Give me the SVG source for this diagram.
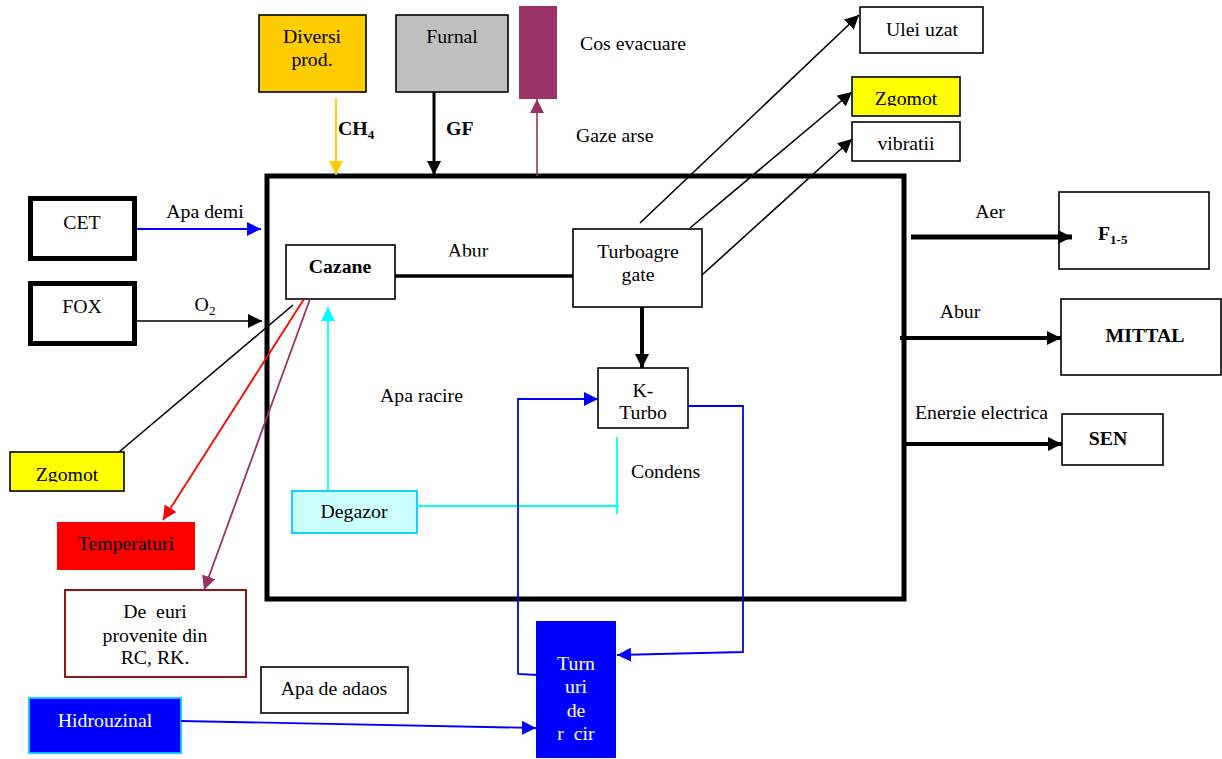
<svg xmlns="http://www.w3.org/2000/svg" width="1222" height="759" viewBox="0 0 1222 759">
<style>
text{font-family:"Liberation Serif","Times New Roman",serif;font-size:19.8px;fill:#000}
.c{text-anchor:middle}
.b{font-weight:bold}
.w{fill:#fff}
.box{fill:#fff;stroke:#000;stroke-width:1.6}
.ln{fill:none;stroke:#000;stroke-width:1.6}
.sub{font-size:13px}
</style>
<defs>
<marker id="ak" markerUnits="userSpaceOnUse" viewBox="0 0 14 14" refX="14" refY="7" markerWidth="14" markerHeight="14" orient="auto"><path d="M0,0L14,7L0,14z" fill="#000"/></marker>
<marker id="ab" markerUnits="userSpaceOnUse" viewBox="0 0 14 14" refX="14" refY="7" markerWidth="14" markerHeight="14" orient="auto"><path d="M0,0L14,7L0,14z" fill="#0000FF"/></marker>
<marker id="ay" markerUnits="userSpaceOnUse" viewBox="0 0 14 14" refX="14" refY="7" markerWidth="14" markerHeight="14" orient="auto"><path d="M0,0L14,7L0,14z" fill="#FFCC00"/></marker>
<marker id="ap" markerUnits="userSpaceOnUse" viewBox="0 0 14 14" refX="14" refY="7" markerWidth="14" markerHeight="14" orient="auto"><path d="M0,0L14,7L0,14z" fill="#993366"/></marker>
<marker id="ar" markerUnits="userSpaceOnUse" viewBox="0 0 14 14" refX="14" refY="7" markerWidth="14" markerHeight="14" orient="auto"><path d="M0,0L14,7L0,14z" fill="#FF0000"/></marker>
<marker id="ac" markerUnits="userSpaceOnUse" viewBox="0 0 14 14" refX="14" refY="7" markerWidth="14" markerHeight="14" orient="auto"><path d="M0,0L14,7L0,14z" fill="#00FFFF"/></marker>
<clipPath id="clAbur"><rect x="420" y="230" width="100" height="26.5"/></clipPath>
<clipPath id="clZg1"><rect x="10" y="452" width="114" height="30"/></clipPath>
<clipPath id="clZg2"><rect x="852" y="77" width="108" height="29"/></clipPath>
<clipPath id="clEn"><rect x="900" y="395" width="170" height="24.5"/></clipPath>
</defs>

<g id="main-box"><rect x="267" y="176" width="637" height="423" fill="none" stroke="#000" stroke-width="5"/></g>

<g id="diversi"><rect x="259" y="15" width="107" height="77" fill="#FFCC00" stroke="#000" stroke-width="1.6"/>
<text x="312" y="43" class="c">Diversi</text><text x="312" y="66" class="c">prod.</text></g>

<g id="furnal"><rect x="396" y="15" width="112" height="77" fill="#C0C0C0" stroke="#000" stroke-width="1.6"/>
<text x="452" y="43" class="c">Furnal</text></g>

<g id="cos"><rect x="519" y="6" width="38" height="93" fill="#993366"/></g>

<g id="ulei"><rect x="860" y="7" width="123" height="46" class="box"/><text x="922" y="36" class="c">Ulei uzat</text></g>

<g id="zgomot-top"><rect x="852" y="77" width="108" height="39" fill="#FFFF00" stroke="#000" stroke-width="1.6"/><text x="906" y="105" class="c" clip-path="url(#clZg2)">Zgomot</text></g>

<g id="vibratii"><rect x="852" y="122" width="108" height="39" class="box"/><text x="906" y="150" class="c">vibratii</text></g>

<g id="cet"><rect x="30.5" y="198.5" width="104" height="60" fill="#fff" stroke="#000" stroke-width="5"/><text x="82" y="229" class="c">CET</text></g>

<g id="fox"><rect x="30.5" y="283.5" width="104" height="60" fill="#fff" stroke="#000" stroke-width="5"/><text x="82" y="313" class="c">FOX</text></g>

<g id="cazane"><rect x="286" y="245" width="109" height="54" class="box"/><text x="340" y="273" class="c b">Cazane</text></g>

<g id="turbo"><rect x="573" y="229" width="129" height="78" class="box"/><text x="638" y="258" class="c">Turboagre</text><text x="638" y="281" class="c">gate</text></g>

<g id="kturbo"><rect x="598" y="368" width="90" height="60" class="box"/><text x="643" y="397" class="c">K-</text><text x="643" y="419" class="c">Turbo</text></g>

<g id="degazor"><rect x="292" y="491" width="125" height="42" fill="#CCFFFF" stroke="#00CCFF" stroke-width="1.8"/><text x="354" y="518" class="c">Degazor</text></g>

<g id="zgomot-left"><rect x="10" y="452" width="114" height="39" fill="#FFFF00" stroke="#000" stroke-width="1.6"/><text x="67" y="481" class="c" clip-path="url(#clZg1)">Zgomot</text></g>

<g id="temperaturi"><rect x="57" y="522" width="138" height="48" fill="#FF0000"/><text x="126" y="550" class="c">Temperaturi</text></g>

<g id="deseuri"><rect x="65" y="590" width="181" height="87" fill="#fff" stroke="#800000" stroke-width="1.8"/>
<text x="155" y="618" class="c" xml:space="preserve">De  euri</text><text x="155" y="642" class="c">provenite din</text><text x="155" y="664" class="c">RC, RK.</text></g>

<g id="apa-adaos"><rect x="261" y="667" width="147" height="46" class="box"/><text x="334" y="695" class="c">Apa de adaos</text></g>

<g id="hidrouzinal"><rect x="29" y="698" width="152" height="55" fill="#0000FF" stroke="#00CCFF" stroke-width="1.8"/><text x="105" y="727" class="c w">Hidrouzinal</text></g>

<g id="turnuri"><rect x="536" y="621" width="80" height="137" fill="#0000FF"/>
<text x="576" y="670" class="c w">Turn</text><text x="576" y="693" class="c w">uri</text><text x="576" y="717" class="c w">de</text><text x="576" y="740" class="c w" xml:space="preserve">r  cir</text></g>

<g id="f15"><rect x="1059" y="192" width="150" height="77" class="box"/><text x="1098" y="240" class="b">F<tspan class="sub" dy="4">1-5</tspan></text></g>

<g id="mittal"><rect x="1061" y="299" width="160" height="76" class="box"/><text x="1145" y="342" class="c b">MITTAL</text></g>

<g id="sen"><rect x="1062" y="414" width="101" height="51" class="box"/><text x="1108" y="445" class="c b">SEN</text></g>

<g id="connectors">
<line x1="336" y1="98" x2="336" y2="175" stroke="#FFCC00" stroke-width="1.8" marker-end="url(#ay)"/>
<line x1="434" y1="92" x2="434" y2="175" stroke="#000" stroke-width="3" marker-end="url(#ak)"/>
<line x1="537" y1="176" x2="537" y2="99" stroke="#993366" stroke-width="1.6" marker-end="url(#ap)"/>
<line x1="137" y1="229" x2="261" y2="229" stroke="#0000FF" stroke-width="2" marker-end="url(#ab)"/>
<line x1="137" y1="321" x2="262" y2="321" class="ln" marker-end="url(#ak)"/>
<line x1="395" y1="276" x2="573" y2="276" stroke="#000" stroke-width="3.5"/>
<line x1="642" y1="307" x2="642" y2="368" stroke="#000" stroke-width="4" marker-end="url(#ak)"/>
<line x1="640" y1="223" x2="859" y2="15" class="ln" marker-end="url(#ak)"/>
<line x1="690" y1="228" x2="852" y2="92" class="ln" marker-end="url(#ak)"/>
<line x1="702" y1="275" x2="852" y2="139" class="ln" marker-end="url(#ak)"/>
<line x1="911" y1="237" x2="1072" y2="237" stroke="#000" stroke-width="5" marker-end="url(#ak)"/>
<line x1="900" y1="338" x2="1061" y2="338" stroke="#000" stroke-width="4" marker-end="url(#ak)"/>
<line x1="904" y1="444" x2="1062" y2="444" stroke="#000" stroke-width="4" marker-end="url(#ak)"/>
<line x1="293" y1="305" x2="119" y2="452" class="ln"/>
<line x1="304" y1="299" x2="163" y2="520" stroke="#FF0000" stroke-width="1.8" marker-end="url(#ar)"/>
<line x1="310" y1="299" x2="204" y2="590" stroke="#993366" stroke-width="1.8" marker-end="url(#ap)"/>
<line x1="328" y1="490" x2="328" y2="307" stroke="#00FFFF" stroke-width="1.8" marker-end="url(#ac)"/>
<polyline points="417,506 619,506" fill="none" stroke="#00FFFF" stroke-width="1.8"/>
<line x1="617" y1="437" x2="617" y2="514" stroke="#00FFFF" stroke-width="1.8"/>
<polyline points="537,675 518,674 518,399 598,399" fill="none" stroke="#0000FF" stroke-width="1.8" marker-end="url(#ab)"/>
<polyline points="688,406 743,406 743,652 617,655" fill="none" stroke="#0000FF" stroke-width="1.8" marker-end="url(#ab)"/>
<line x1="181" y1="721" x2="536" y2="728" stroke="#0000FF" stroke-width="1.8" marker-end="url(#ab)"/>
</g>

<g id="labels">
<text x="338" y="135" class="b">CH<tspan class="sub" dy="4">4</tspan></text>
<text x="446" y="135" class="b">GF</text>
<text x="580" y="50">Cos evacuare</text>
<text x="576" y="142">Gaze arse</text>
<text x="205" y="218" class="c">Apa demi</text>
<text x="205" y="311" class="c">O<tspan class="sub" dy="4">2</tspan></text>
<text x="468" y="257" class="c" clip-path="url(#clAbur)">Abur</text>
<text x="380" y="402">Apa racire</text>
<text x="631" y="478">Condens</text>
<text x="990" y="218" class="c">Aer</text>
<text x="960" y="318" class="c">Abur</text>
<text x="915" y="419" clip-path="url(#clEn)">Energie electrica</text>
</g>
</svg>
